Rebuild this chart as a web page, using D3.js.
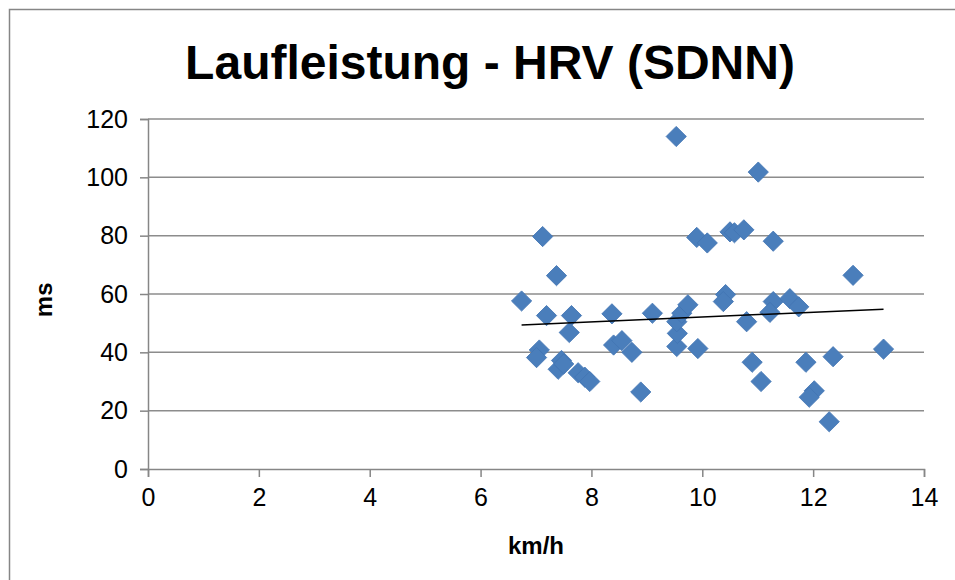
<!DOCTYPE html>
<html>
<head>
<meta charset="utf-8">
<script src="https://cdn.jsdelivr.net/npm/d3@7"></script>
<style>
  body { margin: 0; background: #fff; }
  svg { display: block; font-family: "Liberation Sans", Arial, sans-serif; }
</style>
</head>
<body>
<div id="chart"></div>
<script>
// speed (km/h) and SDNN (ms)
const speed = [6.74, 7.12, 7.37, 7.19, 7.64, 7.60, 7.06, 7.01, 7.40, 7.46,
  7.50, 7.76, 7.88, 7.97, 8.37, 8.40, 8.55, 8.73, 8.89, 9.10,
  9.53, 9.54, 9.55, 9.54, 9.63, 9.74, 9.92, 9.90, 10.09, 10.50,
  10.58, 10.75, 11.01, 11.28, 12.72, 10.42, 10.38, 11.28, 11.58, 11.74,
  11.22, 10.80, 10.90, 11.06, 11.87, 12.36, 13.27, 12.02, 11.93, 12.29];
const sdnn = [57.6, 79.7, 66.3, 52.6, 52.6, 46.8, 40.8, 38.2, 34.2, 37.2,
  36.0, 33.0, 31.5, 30.0, 53.2, 42.5, 44.0, 40.0, 26.4, 53.4,
  114.0, 42.0, 46.5, 50.5, 53.4, 56.3, 41.3, 79.4, 77.5, 81.3,
  81.0, 82.0, 101.8, 78.1, 66.4, 59.8, 57.4, 57.4, 58.4, 55.6,
  53.7, 50.5, 36.6, 30.0, 36.6, 38.5, 41.1, 26.8, 24.6, 16.2];
const xTicks = [0, 2, 4, 6, 8, 10, 12, 14];
const yTicks = [0, 20, 40, 60, 80, 100, 120];

const title = 'Laufleistung - HRV (SDNN)';
const xTitle = 'km/h';
const yTitle = 'ms';

const width = 955, height = 580;
const margin = {left: 148, right: 31, top: 119, bottom: 111};

const points = speed.map((s, i) => ({x: s, y: sdnn[i]}));

// least squares trendline, like the spreadsheet does
function linearFit(pts) {
  const mx = d3.mean(pts, d => d.x), my = d3.mean(pts, d => d.y);
  let sxy = 0, sxx = 0;
  pts.forEach(d => { sxy += (d.x - mx) * (d.y - my); sxx += (d.x - mx) * (d.x - mx); });
  const b = sxy / sxx;
  return {a: my - b * mx, b: b};
}

const svg = d3.select('#chart').append('svg')
  .attr('width', width)
  .attr('height', height);

// outer chart frame (runs off the right and bottom edge)
svg.append('rect')
  .attr('x', 9.5).attr('y', 9.5)
  .attr('width', width + 20).attr('height', height + 20)
  .attr('fill', '#fff')
  .attr('stroke', '#868686')
  .attr('stroke-width', 1.5);

const x = d3.scaleLinear().domain([0, 14]).range([margin.left, width - margin.right]);
const y = d3.scaleLinear().domain([0, 120]).range([height - margin.bottom, margin.top]);

svg.append('text')
  .attr('x', 490).attr('y', 79)
  .attr('text-anchor', 'middle')
  .attr('font-size', 48)
  .attr('font-weight', 'bold')
  .text(title);

// gridlines
svg.append('g')
  .selectAll('line')
  .data(yTicks.filter(t => t > 0))
  .join('line')
  .attr('x1', x(0)).attr('x2', x(14))
  .attr('y1', d => y(d)).attr('y2', d => y(d))
  .attr('stroke', '#8c8c8c')
  .attr('stroke-width', 1.5);

const xAxis = svg.append('g')
  .attr('transform', `translate(0,${y(0)})`)
  .call(d3.axisBottom(x).tickValues(xTicks).tickSize(8).tickPadding(8).tickFormat(d3.format('d')));
const yAxis = svg.append('g')
  .attr('transform', `translate(${x(0)},0)`)
  .call(d3.axisLeft(y).tickValues(yTicks).tickSize(8).tickPadding(12).tickFormat(d3.format('d')));

[xAxis, yAxis].forEach(g => {
  g.select('.domain').attr('stroke', '#868686').attr('stroke-width', 1.5);
  g.selectAll('.tick line').attr('stroke', '#868686').attr('stroke-width', 1.5);
  g.selectAll('.tick text')
    .attr('font-size', 25)
    .attr('font-family', '"Liberation Sans", Arial, sans-serif')
    .attr('fill', '#000');
});
xAxis.selectAll('.tick text').attr('dy', '0.85em');

svg.append('text')
  .attr('x', x(7)).attr('y', 554)
  .attr('text-anchor', 'middle')
  .attr('font-size', 24)
  .attr('font-weight', 'bold')
  .text(xTitle);

svg.append('text')
  .attr('transform', `translate(44,${y(58)}) rotate(-90)`)
  .attr('text-anchor', 'middle')
  .attr('dy', '0.35em')
  .attr('font-size', 24)
  .attr('font-weight', 'bold')
  .text(yTitle);

// markers
const diamond = d3.symbol().type(d3.symbolSquare).size(205);
svg.append('g')
  .selectAll('path')
  .data(points)
  .join('path')
  .attr('d', diamond)
  .attr('transform', d => `translate(${x(d.x)},${y(d.y)}) rotate(45)`)
  .attr('fill', '#4a7ebb')
  .attr('stroke', '#4275b3')
  .attr('stroke-width', 0.8);

// trendline
const fit = linearFit(points);
const xr = d3.extent(points, d => d.x);
svg.append('path')
  .datum(xr.map(v => ({x: v, y: fit.a + fit.b * v})))
  .attr('d', d3.line().x(d => x(d.x)).y(d => y(d.y)))
  .attr('fill', 'none')
  .attr('stroke', '#000')
  .attr('stroke-width', 1.5);
</script>
</body>
</html>
